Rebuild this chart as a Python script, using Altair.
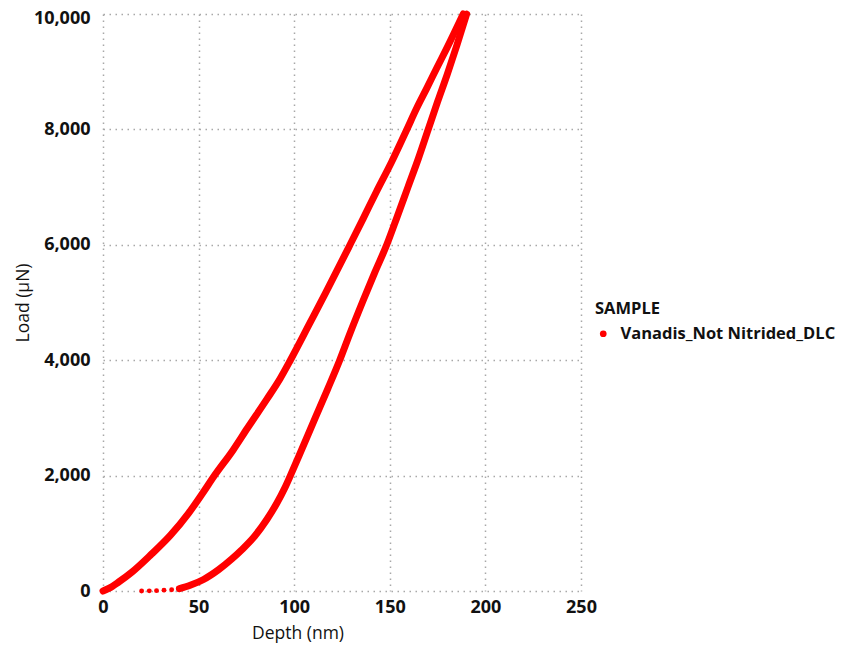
import altair as alt
import pandas as pd

# Loading branch (depth nm, load µN)
load_depth = [0, 3, 8.2, 15.2, 24.7, 35.2, 44.8, 52, 58.3, 68, 75.5, 85.8, 92.6, 98,
              108.3, 116.5, 129.2, 136, 143, 151, 158.8, 164.1, 169.3, 174.5, 179.7, 188.4]
load_force = [0, 45, 156, 329, 617, 963, 1350, 1690, 2000, 2440, 2820, 3330, 3680, 4000,
              4650, 5170, 6000, 6450, 6920, 7440, 7990, 8370, 8710, 9060, 9400, 10000]

# Unloading branch
unload_depth = [190.2, 185, 180, 175, 170.1, 165, 159.5, 154, 148.4, 142, 136, 129, 123.8,
                117.5, 111, 103, 98, 95, 90.9, 85.7, 79.3, 72.6, 67.4, 60.5, 52.6, 45.6, 40]
unload_force = [10000, 9450, 8950, 8480, 8000, 7500, 7000, 6500, 6000, 5510, 5030, 4450, 4000,
                3500, 3000, 2380, 2000, 1780, 1520, 1240, 950, 715, 555, 370, 200, 99, 40]

# Sparse tail points near zero load
tail_depth = [20.2, 24.2, 28, 31.9, 35.9, 39.4]
tail_force = [0, 3, 6, 15, 22, 40]

sample = "Vanadis_Not Nitrided_DLC"

rows = []
for d, f in zip(load_depth, load_force):
    rows.append({"depth": d, "load": f, "branch": "load", "sample": sample})
for d, f in zip(unload_depth, unload_force):
    rows.append({"depth": d, "load": f, "branch": "unload", "sample": sample})
curve_df = pd.DataFrame(rows)
tail_df = pd.DataFrame({"depth": tail_depth, "load": tail_force, "sample": [sample] * len(tail_depth)})

FONT = "Open Sans"
RED = "#ff0000"

color = alt.Color(
    "sample:N",
    scale=alt.Scale(domain=[sample], range=[RED]),
    legend=alt.Legend(
        title="SAMPLE",
        orient="none",
        legendX=492,
        legendY=287,
        symbolType="circle",
        symbolFillColor=RED,
        symbolStrokeColor=RED,
        symbolStrokeWidth=0,
        symbolSize=45,
        titleFont=FONT,
        titleFontSize=16.5,
        titleFontWeight="bold",
        titleColor="#111111",
        titlePadding=8,
        labelFont=FONT,
        labelFontSize=16.5,
        labelFontWeight="bold",
        labelColor="#111111",
        labelOffset=9,
        labelLimit=400,
    ),
)

x = alt.X(
    "depth:Q",
    scale=alt.Scale(domain=[0, 250], nice=False),
    axis=alt.Axis(
        title="Depth (nm)",
        values=[0, 50, 100, 150, 200, 250],
        format="d",
        labelFlush=False,
        titleX=194.5,
        titleY=42,
        titleBaseline="middle",
        titleAlign="center",
    ),
)
y = alt.Y(
    "load:Q",
    scale=alt.Scale(domain=[0, 10000], nice=False),
    axis=alt.Axis(
        title="Load (µN)",
        values=[0, 2000, 4000, 6000, 8000, 10000],
        format=",d",
        labelOffset=alt.condition("datum.value == 10000", alt.value(4), alt.value(0)),
        titleX=-80,
        titleY=288.5,
        titleBaseline="middle",
        titleAlign="center",
        titleAngle=-90,
    ),
)

lines = alt.Chart(curve_df).mark_line(
    strokeWidth=7, strokeCap="round", strokeJoin="round", interpolate="monotone"
).encode(
    x=x, y=y, color=color, detail="branch:N", order="depth:Q"
)
tail = alt.Chart(tail_df).mark_circle(size=24, opacity=1).encode(x=x, y=y, color=color)

chart = (
    alt.layer(lines, tail)
    .properties(
        width=478,
        height=577,
        autosize=alt.AutoSizeParams(type="none"),
        padding={"left": 103, "top": 14, "right": 280, "bottom": 57},
        background="white",
    )
    .configure_view(stroke=None)
    .configure_axis(
        domain=False,
        ticks=False,
        grid=True,
        gridColor="#a8a8a8",
        gridWidth=1.5,
        gridDash=[1.5, 4.5],
        labelFont=FONT,
        labelFontSize=18,
        labelFontWeight="bold",
        labelColor="#111111",
        titleFont=FONT,
        titleFontSize=17.5,
        titleFontWeight="normal",
        titleColor="#111111",
    )
    .configure_axisX(labelPadding=7)
    .configure_axisY(labelPadding=13)
)

chart.save("out.html", embed_options={"renderer": "svg", "actions": False})
